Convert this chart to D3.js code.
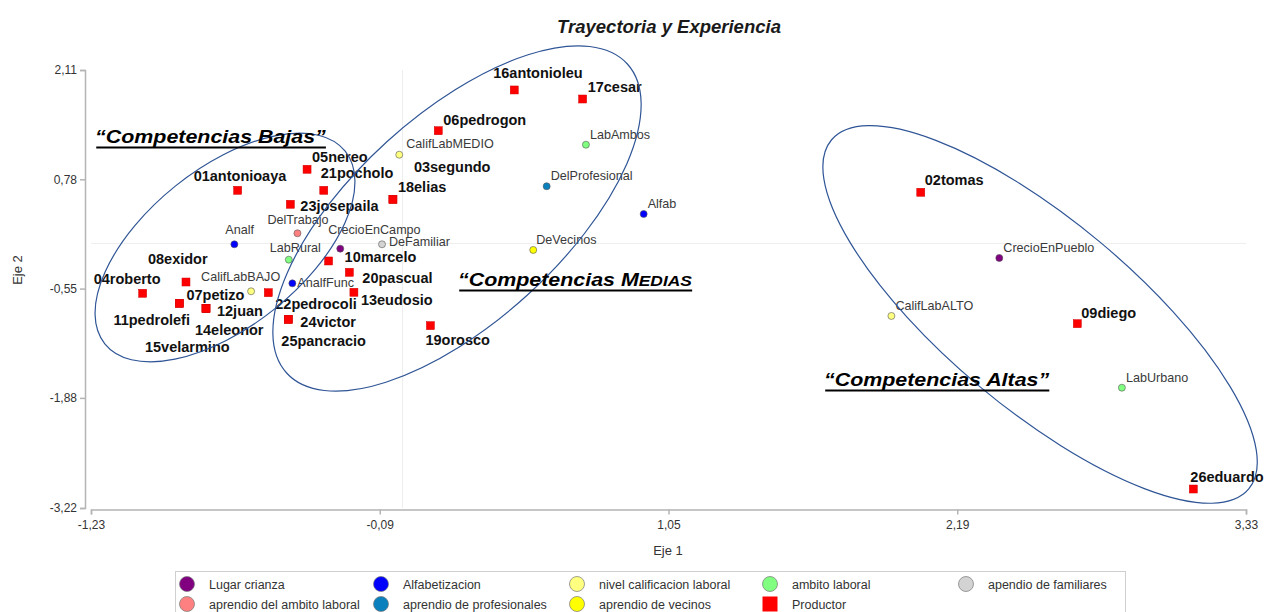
<!DOCTYPE html>
<html><head><meta charset="utf-8">
<script src="https://cdn.jsdelivr.net/npm/d3@7"></script>
<style>body{margin:0;background:#fff}svg{display:block;font-family:"Liberation Sans",Arial,sans-serif}</style>
</head><body><svg id="chart" width="1267" height="612"></svg>
<script>
// ---------------- data ----------------
const productorNames = ["01antonioaya","02tomas","03segundo","04roberto","05nereo","06pedrogon","07petizo","08exidor","09diego","10marcelo","11pedrolefi","12juan","13eudosio","14eleonor","15velarmino","16antonioleu","17cesar","18elias","19orosco","20pascual","21pocholo","22pedrocoli","23josepaila","24victor","25pancracio","26eduardo"];
const productorEje1 = [-0.651,2.046,-0.038,-1.026,-0.377,0.141,-0.881,-0.855,2.664,-0.292,-0.881,-0.776,-0.192,-0.776,-0.776,0.441,0.711,-0.038,0.110,-0.210,-0.311,-0.530,-0.443,-0.451,-0.451,3.122];
const productorEje2 = [0.646,0.622,0.537,-0.607,0.902,1.371,-0.729,-0.470,-0.977,-0.214,-0.729,-0.790,-0.595,-0.790,-0.790,1.867,1.757,0.537,-1.001,-0.352,0.646,-0.600,0.476,-0.924,-0.924,-2.989];

const categoryNames = ["CrecioEnCampo","CrecioEnPueblo","Analf","AnalfFunc","Alfab","CalifLabBAJO","CalifLabMEDIO","CalifLabALTO","LabRural","LabAmbos","LabUrbano","DeFamiliar","DelTrabajo","DelProfesional","DeVecinos"];
const categoryEje1 = [-0.246,2.356,-0.664,-0.435,0.952,-0.598,-0.013,1.930,-0.449,0.724,2.840,-0.081,-0.415,0.569,0.516];
const categoryEje2 = [-0.064,-0.178,-0.011,-0.486,0.358,-0.583,1.079,-0.883,-0.198,1.201,-1.756,-0.011,0.123,0.695,-0.080];
const categoryGroup = ["Lugar crianza","Lugar crianza","Alfabetizacion","Alfabetizacion","Alfabetizacion","nivel calificacion laboral","nivel calificacion laboral","nivel calificacion laboral","ambito laboral","ambito laboral","ambito laboral","apendio de familiares","aprendio del ambito laboral","aprendio de profesionales","aprendio de vecinos"];

const groupNames = ["Lugar crianza","Alfabetizacion","nivel calificacion laboral","ambito laboral","apendio de familiares","aprendio del ambito laboral","aprendio de profesionales","aprendio de vecinos","Productor"];
const groupColors = ["#800080","#0000ff","#ffff80","#80ff80","#d3d3d3","#ff8080","#0a80bd","#ffff00","#ff0000"];

const xTicks = [-1.23,-0.09,1.05,2.19,3.33];
const yTicks = [2.11,0.78,-0.55,-1.88,-3.22];

const titleText = "Trayectoria y Experiencia";
const xTitle = "Eje 1", yTitle = "Eje 2";

// ---------------- layout ----------------
const W = 1267, H = 612;
const svg = d3.select("#chart");
svg.append("rect").attr("width",W).attr("height",H).attr("fill","#fff");

const x = d3.scaleLinear().domain([-1.23,3.33]).range([91,1246]);
const y = d3.scaleLinear().domain([-3.22,2.11]).range([508,70]);
const fmt = d => d.toFixed(2).replace(".",",").replace("-","-");
const color = d3.scaleOrdinal().domain(groupNames).range(groupColors);

// label offsets (dx, baseline dy) in px relative to the mark
const labelOffsets = {
  "16antonioleu":[-21,-12],"17cesar":[5,-7],"06pedrogon":[5,-6],"05nereo":[5,-7],"21pocholo":[-3,-12],
  "01antonioaya":[-44,-9],"23josepaila":[10,7],"18elias":[5,-7],"03segundo":[21,-27],"10marcelo":[16,1],
  "20pascual":[13,11],"13eudosio":[7,13],"19orosco":[-5,19],"22pedrocoli":[7,16],"24victor":[12,8],
  "25pancracio":[-7,27],"08exidor":[-38,-18],"04roberto":[-49,-9],"07petizo":[7,-3],"11pedrolefi":[-66,22],
  "12juan":[11,8],"14eleonor":[-11,27],"15velarmino":[-61,44],"02tomas":[4,-7],"09diego":[4,-6],"26eduardo":[-3,-7],
  "CalifLabMEDIO":[7,-7],"LabAmbos":[4,-6],"DelProfesional":[4,-6],"Alfab":[4,-6],"DeVecinos":[3,-6],
  "DeFamiliar":[7,2],"CrecioEnCampo":[-12,-15],"DelTrabajo":[-30,-9],"Analf":[-9,-10],"LabRural":[-19,-8],
  "CalifLabBAJO":[-50,-10],"AnalfFunc":[5,4],"CrecioEnPueblo":[4,-6],"CalifLabALTO":[4,-6],"LabUrbano":[4,-6]
};

// zero reference lines
svg.append("line").attr("x1",x(0)).attr("x2",x(0)).attr("y1",y(2.11)).attr("y2",y(-3.22))
  .attr("stroke","#eeeeee").attr("stroke-width",1);
svg.append("line").attr("x1",x(-1.23)).attr("x2",x(3.33)).attr("y1",y(0)).attr("y2",y(0))
  .attr("stroke","#eeeeee").attr("stroke-width",1);

// axes
const xAxis = svg.append("g").attr("transform","translate(0,509.5)")
  .call(d3.axisBottom(x).tickValues(xTicks).tickFormat(fmt).tickSize(5).tickSizeOuter(5));
const yAxis = svg.append("g").attr("transform","translate(85,0)")
  .call(d3.axisLeft(y).tickValues(yTicks).tickFormat(fmt).tickSize(5).tickSizeOuter(5));
[xAxis,yAxis].forEach(a=>{
  a.selectAll("path,line").attr("stroke","#b4b4b4").attr("stroke-width",1.5);
  a.selectAll("text").attr("fill","#333").style("font-size","12px").style("font-family","'Liberation Sans',Arial,sans-serif");
});
xAxis.selectAll("text").attr("dy","0.95em");
yAxis.selectAll("text").attr("x",-8);

// axis titles
svg.append("text").attr("x",668).attr("y",555).attr("text-anchor","middle")
  .attr("fill","#333").style("font-size","13px").text(xTitle);
svg.append("text").attr("transform","translate(22,270) rotate(-90)").attr("text-anchor","middle")
  .attr("fill","#333").style("font-size","13px").text(yTitle);

// title
svg.append("text").attr("x",669).attr("y",33).attr("text-anchor","middle")
  .style("font-size","18.5px").style("font-weight","bold").style("font-style","italic")
  .attr("fill","#1a1a1a").text(titleText);

// category points
const cats = categoryNames.map((n,i)=>({name:n,x:categoryEje1[i],y:categoryEje2[i],g:categoryGroup[i]}));
const prods = productorNames.map((n,i)=>({name:n,x:productorEje1[i],y:productorEje2[i]}));

svg.append("g").selectAll("circle").data(cats).join("circle")
  .attr("cx",d=>x(d.x)).attr("cy",d=>y(d.y)).attr("r",3.5)
  .attr("fill",d=>color(d.g)).attr("stroke","#555").attr("stroke-width",0.6);

svg.append("g").selectAll("rect").data(prods).join("rect")
  .attr("x",d=>x(d.x)-4).attr("y",d=>y(d.y)-4).attr("width",8).attr("height",8)
  .attr("fill","#ff0000").attr("stroke","#d00000").attr("stroke-width",0.5);

// labels
svg.append("g").selectAll("text").data(cats).join("text")
  .attr("x",d=>x(d.x)+labelOffsets[d.name][0]).attr("y",d=>y(d.y)+labelOffsets[d.name][1])
  .attr("fill","#3a3a3a").style("font-size","12.6px").text(d=>d.name);

svg.append("g").selectAll("text").data(prods).join("text")
  .attr("x",d=>x(d.x)+labelOffsets[d.name][0]).attr("y",d=>y(d.y)+labelOffsets[d.name][1])
  .attr("fill","#111").style("font-size","14.5px").style("font-weight","bold").text(d=>d.name);

// ---------------- annotations ----------------
const ellipses = [
  {cx:-0.701, cy:-0.050, rx:154, ry:79, angle:-38.7},
  {cx:0.215, cy:0.303, rx:230, ry:104, angle:-42.2},
  {cx:2.517, cy:-0.865, rx:272, ry:94, angle:39.9}
];
svg.append("g").selectAll("ellipse").data(ellipses).join("ellipse")
  .attr("transform",d=>`translate(${x(d.cx)},${y(d.cy)}) rotate(${d.angle})`)
  .attr("rx",d=>d.rx).attr("ry",d=>d.ry)
  .attr("fill","none").attr("stroke","#2f5596").attr("stroke-width",1.2);

const notes = [
  {x:-1.214, y:1.222, main:"\u201CCompetencias Bajas\u201D", small:""},
  {x:0.219, y:-0.518, main:"\u201CCompetencias M", small:"EDIAS"},
  {x:1.664, y:-1.735, main:"\u201CCompetencias Altas\u201D", small:""}
];
notes.forEach(n=>{
  const g = svg.append("g").attr("transform",`translate(${x(n.x)},${y(n.y)}) scale(1.19,1)`);
  const t = g.append("text").attr("x",0).attr("y",0)
    .style("font-size","18px").style("font-weight","bold").style("font-style","italic").attr("fill","#000");
  t.append("tspan").text(n.main);
  if(n.small) t.append("tspan").style("font-size","14.6px").text(n.small);
  const bb = t.node().getBBox();
  g.append("line").attr("x1",bb.x+1).attr("x2",bb.x+bb.width).attr("y1",4.5).attr("y2",4.5)
    .attr("stroke","#000").attr("stroke-width",2);
});

// ---------------- legend ----------------
const lg = svg.append("g");
lg.append("rect").attr("x",175.5).attr("y",571.5).attr("width",950).attr("height",60)
  .attr("fill","#fff").attr("stroke","#cfcfcf");
const colX = [187,381,577,770,966];
groupNames.forEach((g,i)=>{
  const col = i%5, row = Math.floor(i/5);
  const cx = colX[col], cy = 584 + row*20;
  if(g==="Productor"){
    lg.append("rect").attr("x",cx-7.5).attr("y",cy-7.5).attr("width",15).attr("height",15).attr("fill",color(g));
  } else {
    lg.append("circle").attr("cx",cx).attr("cy",cy).attr("r",7.5).attr("fill",color(g))
      .attr("stroke","#777").attr("stroke-width",0.7);
  }
  lg.append("text").attr("x",cx+22).attr("y",cy+4.5).attr("fill","#333").style("font-size","12.5px").text(g);
});
</script></body></html>
